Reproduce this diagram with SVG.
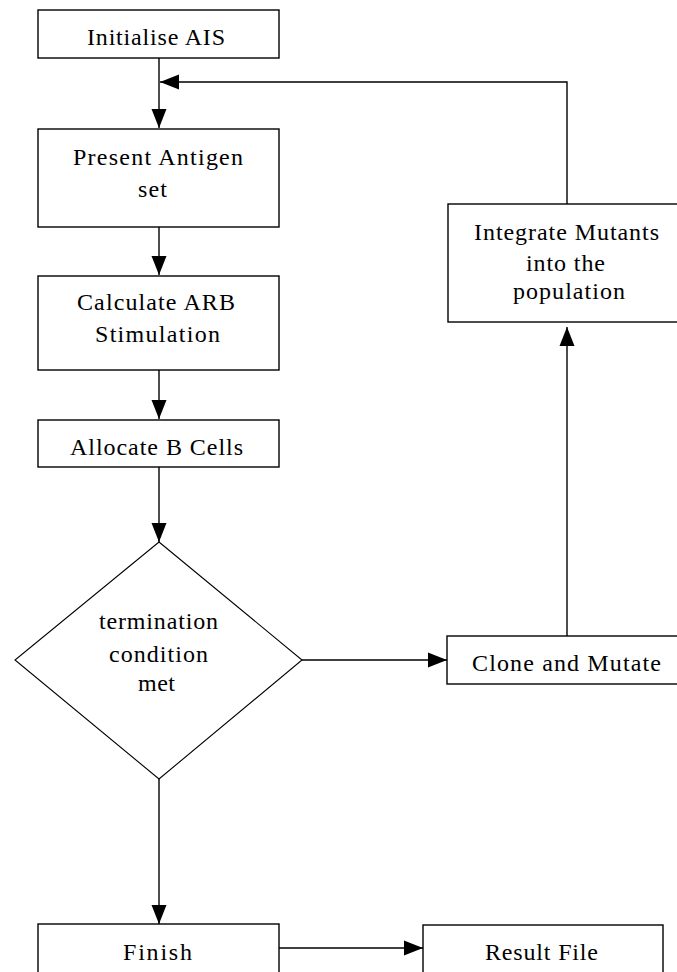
<svg xmlns="http://www.w3.org/2000/svg" width="677" height="972" viewBox="0 0 677 972">
<defs>
<style>
.box{fill:#fff;stroke:#000;stroke-width:1.4}
.dia{fill:#fff;stroke:#000;stroke-width:1.1}
.t{font-family:"Liberation Serif","Times New Roman",serif;font-size:24px;fill:#000}
.c{fill:none;stroke:#000;stroke-width:1.4}
</style>
<marker id="ah" markerUnits="userSpaceOnUse" markerWidth="20" markerHeight="18" viewBox="0 0 20 18" refX="19" refY="9" orient="auto">
<path d="M0,1.5 L19,9 L0,16.5 Z" fill="#000"/>
</marker>
</defs>
<rect width="677" height="972" fill="#fff"/>
<g id="connectors">
<path class="c" d="M159,58 V128" marker-end="url(#ah)"/>
<path class="c" d="M567,204 V82 H160" marker-end="url(#ah)"/>
<path class="c" d="M159,227 V275" marker-end="url(#ah)"/>
<path class="c" d="M159,370 V419" marker-end="url(#ah)"/>
<path class="c" d="M159,467 V542" marker-end="url(#ah)"/>
<path class="c" d="M302,660 H447" marker-end="url(#ah)"/>
<path class="c" d="M567,636 V327" marker-end="url(#ah)"/>
<path class="c" d="M159,779 V924" marker-end="url(#ah)"/>
<path class="c" d="M279,948 H423" marker-end="url(#ah)"/>
</g>
<g id="initialise">
<rect class="box" x="38" y="10" width="241" height="48"/>
<text class="t" x="87" y="45" textLength="138" lengthAdjust="spacing">Initialise AIS</text>
</g>
<g id="present">
<rect class="box" x="38" y="129" width="241" height="98"/>
<text class="t" x="73" y="165" textLength="170" lengthAdjust="spacing">Present Antigen</text>
<text class="t" x="138" y="197" textLength="29" lengthAdjust="spacing">set</text>
</g>
<g id="calculate">
<rect class="box" x="38" y="276" width="241" height="94"/>
<text class="t" x="77" y="310" textLength="158" lengthAdjust="spacing">Calculate ARB</text>
<text class="t" x="95" y="342" textLength="125" lengthAdjust="spacing">Stimulation</text>
</g>
<g id="allocate">
<rect class="box" x="38" y="420" width="241" height="47"/>
<text class="t" x="70" y="455" textLength="173" lengthAdjust="spacing">Allocate B Cells</text>
</g>
<g id="termination">
<path class="dia" d="M159,542 L302,660 L159,779 L15,660 Z"/>
<text class="t" x="99" y="629" textLength="119" lengthAdjust="spacing">termination</text>
<text class="t" x="109" y="662" textLength="99" lengthAdjust="spacing">condition</text>
<text class="t" x="138" y="691" textLength="37" lengthAdjust="spacing">met</text>
</g>
<g id="integrate">
<rect class="box" x="448" y="204" width="240" height="118"/>
<text class="t" x="474" y="240" textLength="185" lengthAdjust="spacing">Integrate Mutants</text>
<text class="t" x="526" y="271" textLength="79" lengthAdjust="spacing">into the</text>
<text class="t" x="513" y="299" textLength="112" lengthAdjust="spacing">population</text>
</g>
<g id="clone">
<rect class="box" x="447" y="636" width="240" height="48"/>
<text class="t" x="472" y="671" textLength="189" lengthAdjust="spacing">Clone and Mutate</text>
</g>
<g id="finish">
<rect class="box" x="38" y="924" width="241" height="60"/>
<text class="t" x="123" y="960" textLength="69" lengthAdjust="spacing">Finish</text>
</g>
<g id="result">
<rect class="box" x="423" y="925" width="240" height="60"/>
<text class="t" x="485" y="960" textLength="113" lengthAdjust="spacing">Result File</text>
</g>
</svg>
